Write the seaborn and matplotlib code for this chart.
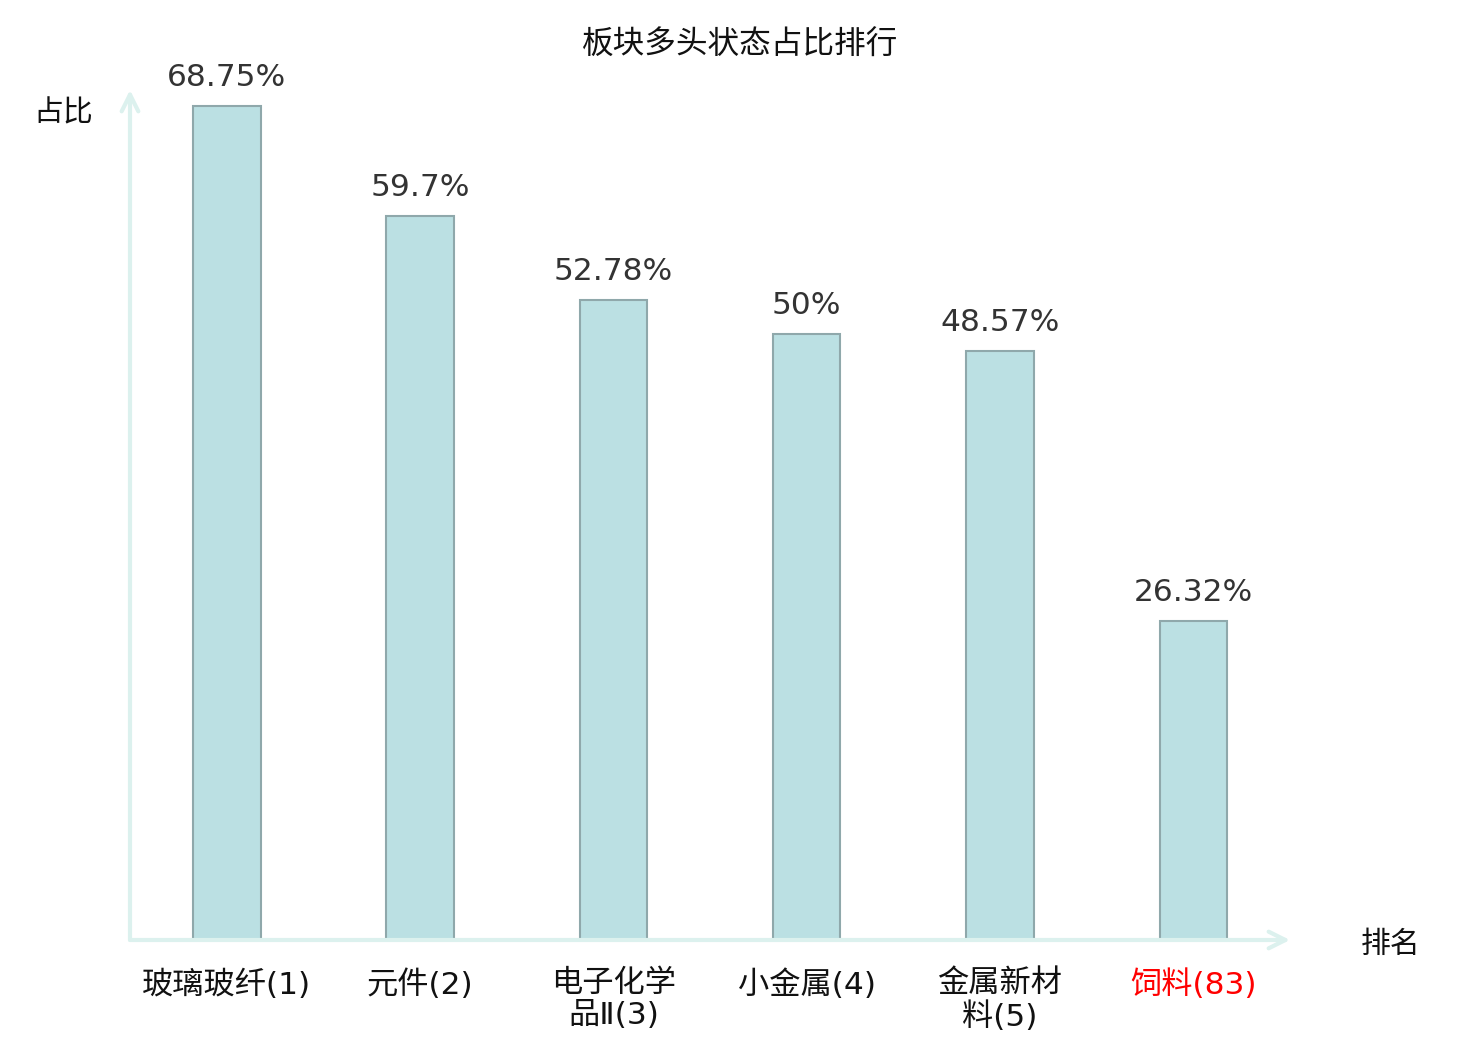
import matplotlib
matplotlib.use("Agg")
import matplotlib.pyplot as plt
import pandas as pd
import seaborn as sns

# data
categories = ["玻璃玻纤(1)", "元件(2)", "电子化学\n品Ⅱ(3)", "小金属(4)", "金属新材\n料(5)", "饲料(83)"]
ratios = [68.75, 59.7, 52.78, 50, 48.57, 26.32]
value_labels = ["68.75%", "59.7%", "52.78%", "50%", "48.57%", "26.32%"]
highlight = "饲料(83)"

sns.set_theme(style="white")
plt.rcParams["font.family"] = ["Noto Sans CJK SC", "DejaVu Sans"]

df = pd.DataFrame({"板块": categories, "占比": ratios})

fig = plt.figure(figsize=(14.8, 10.4), dpi=100)
ax = fig.add_axes([130 / 1480, 100 / 1040, 1160 / 1480, 850 / 1040])

sns.barplot(data=df, x="板块", y="占比", ax=ax, width=0.35,
            color="#bbe0e3", edgecolor="#8fa8ab", linewidth=1.5, saturation=1)

ax.set_xlim(-0.5, 5.5)
ax.set_ylim(0, 70.1)
for s in ax.spines.values():
    s.set_visible(False)
ax.set_yticks([])
ax.set_xlabel("")
ax.set_ylabel("")

# axis arrows
axis_col = "#dcf1ee"
ax.annotate("", xy=(1.0, 0), xytext=(0, 0), xycoords="axes fraction",
            arrowprops=dict(arrowstyle="->", color=axis_col, lw=3,
                            mutation_scale=30, shrinkA=0, shrinkB=0))
ax.annotate("", xy=(0, 1.0), xytext=(0, 0), xycoords="axes fraction",
            arrowprops=dict(arrowstyle="->", color=axis_col, lw=3,
                            mutation_scale=30, shrinkA=0, shrinkB=0))

# tick labels
ax.set_xticks(range(len(categories)))
ax.set_xticklabels(categories, fontsize=22.5, linespacing=1.12,
                   family=["DejaVu Sans", "Noto Sans CJK SC"])
ax.tick_params(axis="x", length=0, pad=21)
for lbl in ax.get_xticklabels():
    lbl.set_verticalalignment("top")
    lbl.set_color("red" if lbl.get_text() == highlight else "#111111")

# value labels
for i, (v, t) in enumerate(zip(ratios, value_labels)):
    ax.annotate(t, xy=(i, v), xytext=(0, 10), textcoords="offset points",
                ha="center", va="bottom", fontsize=22.5, color="#333333",
                family=["DejaVu Sans"])

fig.text(740 / 1480, 1 - 45 / 1040, "板块多头状态占比排行", ha="center", va="center",
         fontsize=22.8, color="#111111")
fig.text(63 / 1480, 1 - 113 / 1040, "占比", ha="center", va="center",
         fontsize=21.5, color="#111111")
fig.text(1391 / 1480, 1 - 944 / 1040, "排名", ha="center", va="center",
         fontsize=21.5, color="#111111")

fig.savefig("out.png", dpi=100)
